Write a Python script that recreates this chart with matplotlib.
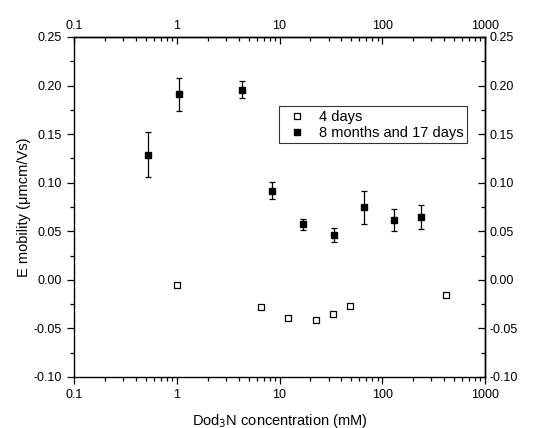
import numpy as np
import matplotlib.pyplot as plt
from matplotlib.ticker import LogLocator, FixedLocator, FuncFormatter

plt.rcParams['font.family'] = ['Liberation Sans', 'DejaVu Sans']

# 4 days (open squares)
conc_4d = [1.0, 6.65, 12.0, 22.6, 33.0, 48.2, 417]
mob_4d = [-0.005, -0.0276, -0.0396, -0.041, -0.0348, -0.0266, -0.0156]

# 8 months and 17 days (filled squares with error bars)
conc_8m = [0.525, 1.06, 4.28, 8.45, 17.1, 34.2, 67, 129, 237]
mob_8m = [0.129, 0.191, 0.1958, 0.0918, 0.0572, 0.0462, 0.0747, 0.0616, 0.0647]
err_8m = [0.0235, 0.017, 0.0085, 0.009, 0.0055, 0.0068, 0.017, 0.0113, 0.0128]

fig = plt.figure(figsize=(5.34, 4.28), dpi=100)
ax = fig.add_axes([0.1386, 0.1192, 0.7697, 0.7944])

ax.plot(conc_4d, mob_4d, 's', mfc='white', mec='black', mew=0.9, ms=5,
        label='4 days', ls='none')
ax.errorbar(conc_8m, mob_8m, yerr=err_8m, fmt='none', ecolor='black',
            elinewidth=0.9, capsize=2.5, capthick=0.9)
ax.plot(conc_8m, mob_8m, 's', color='black', ms=5, ls='none',
        label='8 months and 17 days')

ax.set_xscale('log')
ax.set_xlim(0.1, 1000)
ax.set_ylim(-0.10, 0.25)

fmt_x = FuncFormatter(lambda v, p: '%g' % v)
fmt_y = FuncFormatter(lambda v, p: '%.2f' % v)

ax.xaxis.set_major_locator(LogLocator(base=10, numticks=10))
ax.xaxis.set_minor_locator(LogLocator(base=10, subs=np.arange(2, 10), numticks=20))
ax.xaxis.set_major_formatter(fmt_x)
ax.yaxis.set_major_locator(FixedLocator(np.arange(-0.10, 0.26, 0.05)))
ax.yaxis.set_minor_locator(FixedLocator(np.arange(-0.075, 0.25, 0.05)))
ax.yaxis.set_major_formatter(fmt_y)

ax.tick_params(which='major', direction='out', length=5, width=0.9, labelsize=9)
ax.tick_params(which='minor', direction='out', length=3, width=0.9)

# mirrored axes on top and right, ticks pointing in
top = ax.secondary_xaxis('top')
top.xaxis.set_major_locator(LogLocator(base=10, numticks=10))
top.xaxis.set_minor_locator(LogLocator(base=10, subs=np.arange(2, 10), numticks=20))
top.xaxis.set_major_formatter(fmt_x)
top.tick_params(which='major', direction='in', length=5, width=0.9, labelsize=9)
top.tick_params(which='minor', direction='in', length=3, width=0.9)

right = ax.secondary_yaxis('right')
right.yaxis.set_major_locator(FixedLocator(np.arange(-0.10, 0.26, 0.05)))
right.yaxis.set_minor_locator(FixedLocator(np.arange(-0.075, 0.25, 0.05)))
right.yaxis.set_major_formatter(fmt_y)
right.tick_params(which='major', direction='in', length=5, width=0.9, labelsize=9)
right.tick_params(which='minor', direction='in', length=3, width=0.9)

for a in (ax, top, right):
    for s in a.spines.values():
        s.set_linewidth(1.0)

ax.set_xlabel('Dod$_3$N concentration (mM)', fontsize=10.5, labelpad=8)
ax.set_ylabel('E mobility (\u03bcmcm/Vs)', fontsize=10.5, labelpad=2)

leg = ax.legend(loc='upper left', bbox_to_anchor=(0.498, 0.797), fontsize=10.5,
                frameon=True, fancybox=False, edgecolor='black',
                handlelength=2.0, handletextpad=0.5, borderpad=0.25,
                labelspacing=0.15, borderaxespad=0)
leg.get_frame().set_linewidth(0.8)

fig.savefig('out.png', dpi=100)
